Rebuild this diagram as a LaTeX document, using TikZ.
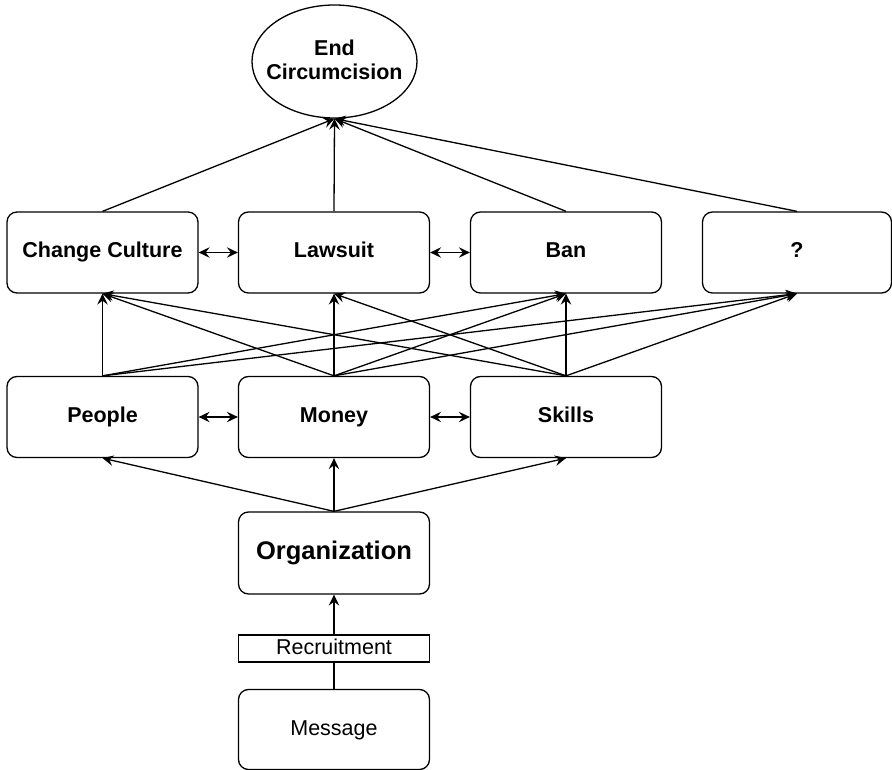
\documentclass[tikz,border=0pt]{standalone}
\usepackage{fontspec}
\setmainfont{Liberation Sans}
\usetikzlibrary{arrows.meta,shapes.geometric}
\begin{document}
\begin{tikzpicture}[x=1pt,y=-1pt,
  line width=1.3pt,
  box/.style={draw, rounded corners=10pt, minimum width=191pt, minimum height=81pt,
    inner sep=0pt, text height=15.5pt, text depth=4.5pt,
    font=\fontsize{21.5}{24}\selectfont\bfseries},
  plainbox/.style={box, font=\fontsize{21.5}{24}\selectfont},
  bigbox/.style={box, text height=18.5pt, text depth=5.5pt,
    font=\fontsize{25.5}{28}\selectfont\bfseries},
  goal/.style={draw, ellipse, minimum width=165pt, minimum height=113pt, inner sep=0pt},
  goaltext/.style={align=center, inner sep=0pt, font=\fontsize{21.5}{24}\selectfont\bfseries},
  tag/.style={draw, minimum width=191pt, minimum height=27pt, inner sep=0pt,
    text height=15.5pt, text depth=4.5pt, font=\fontsize{21.5}{24}\selectfont},
  arr/.style={-{Stealth[length=11pt,width=10.5pt,inset=4pt]}},
  biarr/.style={{Stealth[length=11pt,width=10.5pt,inset=4pt]}-{Stealth[length=11pt,width=10.5pt,inset=4pt]}}
]
\useasboundingbox (0,0) rectangle (892,770);

% goal
\node[goal] (ell) at (334.5,61.5) {};
\node[goaltext] (elltext) at (334.5,60) {End\\Circumcision};

% strategies
\node[box] (cc)  at (102.5,252.5) {Change Culture};
\node[box] (law) at (334,252.5) {Lawsuit};
\node[box] (ban) at (566,252.5) {Ban};
\node[box, minimum width=189pt] (q) at (797,252.5) {?};

% resources
\node[box] (people) at (102.5,417) {People};
\node[box] (money)  at (334,417) {Money};
\node[box] (skills) at (566,417) {Skills};

% base
\node[bigbox, minimum height=82pt] (org) at (334,553) {Organization};
\node[tag] (rec) at (334,648.5) {Recruitment};
\node[plainbox, minimum height=80pt] (msg) at (334,729.5) {Message};

% strategies to goal
\foreach \s in {cc,law,ban,q}
  \draw[arr] (\s.north) -- (ell.south);

% links within rows
\draw[biarr] (cc.east) -- (law.west);
\draw[biarr] (law.east) -- (ban.west);
\draw[biarr] (people.east) -- (money.west);
\draw[biarr] (money.east) -- (skills.west);

% resources to strategies
\foreach \t in {cc,ban,q}
  \draw[arr] (people.north) -- (\t.south);
\foreach \t in {cc,law,ban,q}
  \draw[arr] (money.north) -- (\t.south);
\foreach \t in {cc,law,ban,q}
  \draw[arr] (skills.north) -- (\t.south);

% organization to resources
\foreach \t in {people,money,skills}
  \draw[arr] (org.north) -- (\t.south);

% message through recruitment
\draw (msg.north) -- (rec.south);
\draw[arr] (rec.north) -- (org.south);
\end{tikzpicture}
\end{document}
